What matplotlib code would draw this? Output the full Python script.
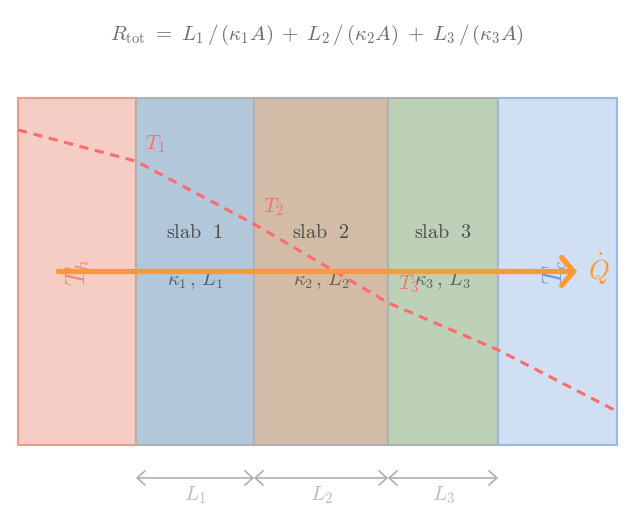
import matplotlib
matplotlib.use("Agg")
import matplotlib.pyplot as plt
from matplotlib.patches import Rectangle

plt.rcParams['mathtext.fontset'] = 'cm'
plt.rcParams['font.family'] = 'DejaVu Serif'

W, H = 636, 529
# region boundaries (scale: one unit = first layer thickness)
edges = [0.0, 1.0, 2.0, 3.136, 4.068, 5.076]
fills = ['#f5cdc4', '#b3c7db', '#d2bca8', '#bdd0b8', '#d1dff2']
strokes = ['#eb9b8b', '#b0b0b0', '#b0b0b0', '#b0b0b0', '#9ab7e6']
# temperature profile, height above bottom as a fraction of the wall
temp_x = [0.0, 1.0, 2.0, 3.136, 4.068, 5.076]
temp_y = [0.908, 0.818, 0.637, 0.41, 0.274, 0.097]
slab_names = ['slab\\ \\ 1', 'slab\\ \\ 2', 'slab\\ \\ 3']
slab_props = [r'$\kappa_1\,,\,L_1$', r'$\kappa_2\,,\,L_2$', r'$\kappa_3\,,\,L_3$']
dim_labels = [r'$L_1$', r'$L_2$', r'$L_3$']
title = (r'$R_{\mathrm{tot}}\ =\ L_1\,/\,(\kappa_1 A)\;+\;L_2\,/\,(\kappa_2 A)'
         r'\;+\;L_3\,/\,(\kappa_3 A)$')

fig = plt.figure(figsize=(W / 100, H / 100), dpi=100)
ax = fig.add_axes([18 / W, 1 - 445 / H, (617 - 18) / W, (445 - 98) / H])
ax.set_xlim(edges[0], edges[-1])
ax.set_ylim(0, 1)
ax.axis('off')

for i in range(5):
    ax.add_patch(Rectangle((edges[i], 0), edges[i + 1] - edges[i], 1, fc=fills[i],
                           ec=strokes[i], lw=1.5, clip_on=False, zorder=1 + i * 0.1))

ax.plot(temp_x, temp_y, color='#ff6b6b', lw=2.2, ls=(0, (3, 2.2)), zorder=3)

heat = '#ff9933'
ax.annotate('', xy=(4.737, 0.5), xytext=(0.34, 0.5), zorder=6,
            arrowprops=dict(arrowstyle='->,head_length=0.85,head_width=1.0', color=heat,
                            lw=3.8, shrinkA=0, shrinkB=0, mutation_scale=10,
                            capstyle='round', joinstyle='miter'))

dark = '#4d4d4d'
for i in range(3):
    c = (edges[i + 1] + edges[i + 2]) / 2
    ax.text(c, 0.612, '$\\mathrm{' + slab_names[i] + '}$', ha='center',
            va='center', fontsize=14.5, color=dark, zorder=4)
    ax.text(c, 0.475, slab_props[i], ha='center', va='center', fontsize=14.5,
            color=dark, alpha=0.85, zorder=4)

red = '#ff6b6b'
ax.text(1.08, 0.868, r'$T_1$', ha='left', va='center', fontsize=15, color=red, zorder=4)
ax.text(2.08, 0.685, r'$T_2$', ha='left', va='center', fontsize=15, color=red, zorder=4)
ax.text(3.22, 0.462, r'$T_3$', ha='left', va='center', fontsize=15, color=red, zorder=5)
ax.text(0.51, 0.497, r'$T_h$', ha='center', va='center', rotation=90, fontsize=19,
        color='#e98a78', zorder=4)
ax.text(4.55, 0.497, r'$T_c$', ha='center', va='center', rotation=90, fontsize=19,
        color='#6f9bdc', zorder=4)
ax.text(4.92, 0.505, r'$\dot{Q}$', ha='center', va='center', fontsize=19, color=heat, zorder=6)

dim_y = -0.095
for i in range(3):
    ax.annotate('', xy=(edges[i + 2], dim_y), xytext=(edges[i + 1], dim_y),
                annotation_clip=False,
                arrowprops=dict(arrowstyle='<->,head_length=0.58,head_width=0.52', color='#aaaaaa',
                                lw=1.1, shrinkA=0, shrinkB=0, mutation_scale=10))
    ax.text((edges[i + 1] + edges[i + 2]) / 2, -0.145, dim_labels[i], ha='center', va='center',
            fontsize=15, color='#bbbbbb', clip_on=False)

fig.text(317 / W, 1 - 35 / H, title, ha='center', va='center', fontsize=15, color='#6e6e6e')

fig.savefig('out.png', dpi=100)
